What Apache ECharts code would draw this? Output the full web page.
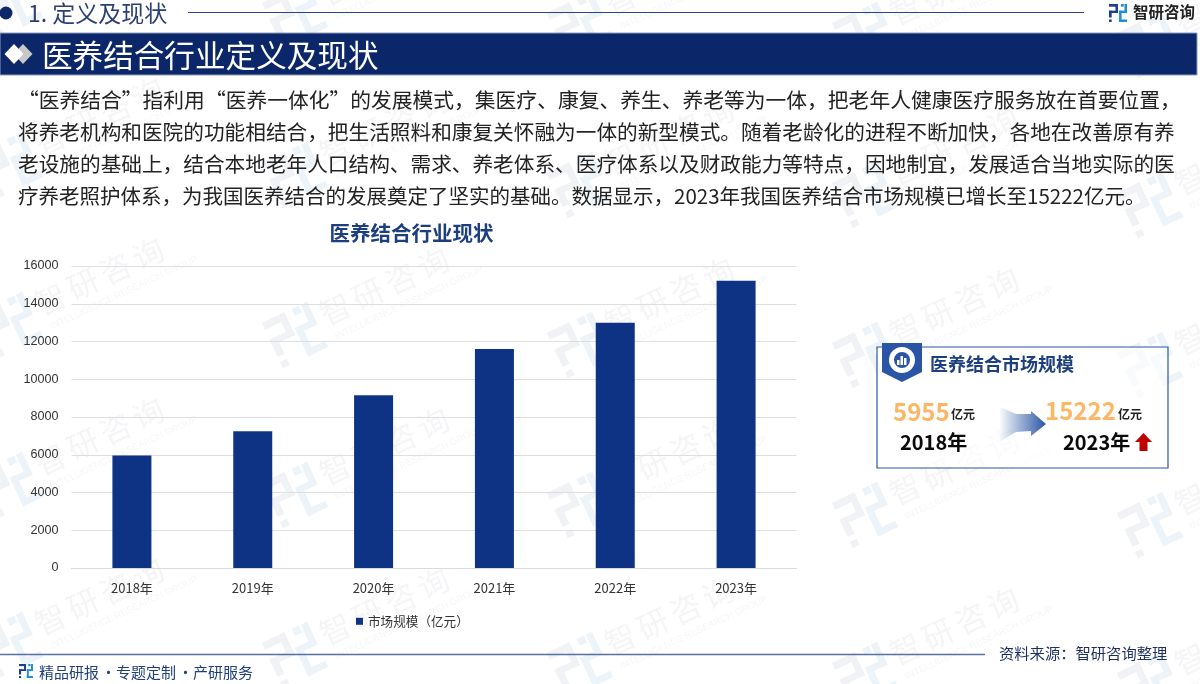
<!DOCTYPE html>
<html>
<head>
<meta charset="utf-8">
<style>
html,body{margin:0;padding:0;background:#fff}
#main{width:1200px;height:684px}
</style>
<script src="https://cdn.jsdelivr.net/npm/echarts@6/dist/echarts.min.js"></script>
</head>
<body>
<div id="main"></div>
<script>
var categories = ['2018年','2019年','2020年','2021年','2022年','2023年'];
var marketSize = [5955,7250,9150,11600,13000,15222];
var yTicks = {min:0,max:16000,interval:2000};
var bodyLines = [
  '“医养结合”指利用“医养一体化”的发展模式，集医疗、康复、养生、养老等为一体，把老年人健康医疗服务放在首要位置，',
  '将养老机构和医院的功能相结合，把生活照料和康复关怀融为一体的新型模式。随着老龄化的进程不断加快，各地在改善原有养',
  '老设施的基础上，结合本地老年人口结构、需求、养老体系、医疗体系以及财政能力等特点，因地制宜，发展适合当地实际的医',
  '疗养老照护体系，为我国医养结合的发展奠定了坚实的基础。数据显示，2023年我国医养结合市场规模已增长至15222亿元。'
];
var bodySizes = [20.78,20.67,20.67,20.5];
var wmChars = ['智','研','咨','询'];
var wmCols = [[10,-30],[295,-20],[580,-10],[865,0],[1150,10]];
var wmRows = [35,195,355,515,675];

var FONT = '"Noto Sans CJK SC","Noto Sans",sans-serif';
var NAVY = '#0c2868';
var BLUE = '#0e3384';

function txt(x,y,s,size,color,extra){
  var style = {x:x,y:y,text:s,fontSize:size,fill:color,fontFamily:FONT,textVerticalAlign:'middle'};
  for(var k in (extra||{})) style[k]=extra[k];
  return {type:'text',z:10,style:style};
}
function logo(x,y,s,c1,c2,z){
  // the square company mark, drawn from bars
  var bars=[[0,0,.5,.15,c1],[.36,0,.14,.5,c1],[0,.37,.5,.13,c1],[0,.37,.15,.38,c1],[0,.86,.15,.14,c1],
            [.66,0,.16,.15,c2],[.86,0,.14,.5,c2],[.56,.37,.44,.13,c2],[.56,.37,.14,.63,c2],[.56,.86,.44,.14,c2]];
  return bars.map(function(b){
    return {type:'rect',z:z==null?9:z,shape:{x:x+b[0]*s,y:y+b[1]*s,width:b[2]*s,height:b[3]*s},style:{fill:b[4]}};
  });
}
function watermark(cx,cy){
  var group={type:'group',x:cx,y:cy,rotation:Math.PI/180*25,z:0,silent:true,children:[]};
  logo(-25,-25,50,'#f0f2f6','#ecf4f9',0).forEach(function(r){group.children.push(r);});
  wmChars.forEach(function(c,i){
    group.children.push({type:'text',z:0,style:{x:32+i*36,y:-22,text:c,fontSize:31,fill:'#f5f5f7',fontFamily:FONT}});
  });
  group.children.push({type:'text',z:0,style:{x:36,y:14,text:'INTELLIGENCE RESEARCH GROUP',fontSize:9.5,fill:'#f5f6f8',fontFamily:'Liberation Sans'}});
  return group;
}

var g=[];
wmRows.forEach(function(y){wmCols.forEach(function(c){g.push(watermark(c[0],y+c[1]));});});

// top heading row
g.push({type:'circle',z:10,shape:{cx:6,cy:13,r:6.5},style:{fill:NAVY}});
g.push(txt(28,13,'1. 定义及现状',23,'#2b3f73'));
g.push({type:'line',z:10,shape:{x1:188,y1:12.5,x2:1084,y2:12.5},style:{stroke:'#27458f',lineWidth:1}});
g=g.concat(logo(1109,4,18,'#1d3f8f','#1f8fd6'));
g.push(txt(1133,12,'智研咨询',15.5,'#222',{fontWeight:'bold'}));

// title banner
g.push({type:'rect',z:8,shape:{x:0,y:33,width:1197,height:42},style:{fill:'#0b2769',stroke:'#8f9dc0',lineWidth:1}});
g.push({type:'polygon',z:10,shape:{points:[[23,44],[32.5,54],[23,64],[13.5,54]]},style:{fill:'#c8c8c8'}});
g.push({type:'polygon',z:10,shape:{points:[[14,44],[23.5,54],[14,64],[4.5,54]]},style:{fill:'#fff'}});
g.push(txt(42,55,'医养结合行业定义及现状',30.6,'#fff'));

// paragraph
bodyLines.forEach(function(l,i){
  g.push(txt(18,100+i*32,l,bodySizes[i],'#222'));
});

// callout box
g.push({type:'rect',z:8,shape:{x:877,y:347,width:291,height:121},style:{fill:'rgba(255,255,255,0.6)',stroke:'#2f559f',lineWidth:1.2}});
g.push({type:'polygon',z:9,shape:{points:[[882,343],[922,343],[922,372],[902,382],[882,372]]},style:{fill:'#2a55a5'}});
g.push({type:'ring',z:10,shape:{cx:902,cy:360,r:13,r0:8},style:{fill:'#fff'}});
g.push({type:'rect',z:10,shape:{x:897,y:360,width:2.5,height:5},style:{fill:'#fff'}});
g.push({type:'rect',z:10,shape:{x:900.5,y:356,width:2.5,height:9},style:{fill:'#fff'}});
g.push({type:'rect',z:10,shape:{x:904,y:358,width:2.5,height:7},style:{fill:'#fff'}});
g.push(txt(930,364,'医养结合市场规模',18,'#1d3f7f',{fontWeight:'bold'}));
g.push(txt(893,412,String(marketSize[0]),24,'#fdb566',{fontWeight:'bold'}));
g.push(txt(951,414,'亿元',12,'#222',{fontWeight:'bold'}));
g.push(txt(1045,411,String(marketSize[5]),24,'#fdb566',{fontWeight:'bold'}));
g.push(txt(1118,414,'亿元',12,'#222',{fontWeight:'bold'}));
g.push(txt(900,442,categories[0],20,'#0a0a0a',{fontWeight:'bold'}));
g.push(txt(1063,442,categories[5],20,'#0a0a0a',{fontWeight:'bold'}));
g.push({type:'polygon',z:10,shape:{points:[[1000,407],[1016,414],[1031,414],[1031,411],[1046,424],[1031,436],[1031,431],[1016,432],[1000,441]]},
  style:{fill:new echarts.graphic.LinearGradient(0,0,1,0,[{offset:0,color:'rgba(42,85,165,0.03)'},{offset:1,color:'#2a55a5'}])}});
g.push({type:'polygon',z:10,shape:{points:[[1143.5,433],[1152,442],[1147.5,442],[1147.5,451],[1139.5,451],[1139.5,442],[1135,442]]},style:{fill:'#bf0000'}});

// footer
g.push({type:'line',z:10,shape:{x1:0,y1:654.5,x2:985,y2:654.5},style:{stroke:'#5a6fa3',lineWidth:1.5}});
g.push(txt(999,653,'资料来源：智研咨询整理',15.3,'#1d2f5f'));
g=g.concat(logo(19,664,14,'#1d3f8f','#1f8fd6'));
[['精品研报',39],['·',101],['专题定制',116],['·',178],['产研服务',193]].forEach(function(p){
  g.push(txt(p[1],672,p[0],15,'#1d3f7f'));
});

var chart = echarts.init(document.getElementById('main'));
chart.setOption({
  animation:false,
  backgroundColor:'#fff',
  title:{text:'医养结合行业现状',left:406.5,top:218,textAlign:'center',
    textStyle:{fontSize:20.5,fontWeight:'bold',color:'#1d3f7f',fontFamily:FONT}},
  legend:{top:610,left:351,itemWidth:7,itemHeight:7,itemGap:4,icon:'rect',
    textStyle:{fontSize:12.6,color:'#333',fontFamily:FONT}},
  grid:{left:71.5,right:403.5,top:266,bottom:116},
  xAxis:{type:'category',data:categories,
    axisTick:{show:false},
    axisLine:{lineStyle:{color:'#d9d9d9'}},
    axisLabel:{color:'#333',fontSize:13,margin:14,fontFamily:FONT}},
  yAxis:{type:'value',min:yTicks.min,max:yTicks.max,interval:yTicks.interval,
    axisLine:{show:false},axisTick:{show:false},
    axisLabel:{color:'#333',fontSize:12.6,margin:13,fontFamily:'Liberation Sans',formatter:function(v){return String(v);}},
    splitLine:{lineStyle:{color:'#dedede'}}},
  series:[{name:'市场规模（亿元）',type:'bar',data:marketSize,barWidth:39,itemStyle:{color:BLUE}}],
  graphic:{elements:g}
});
</script>
</body>
</html>
